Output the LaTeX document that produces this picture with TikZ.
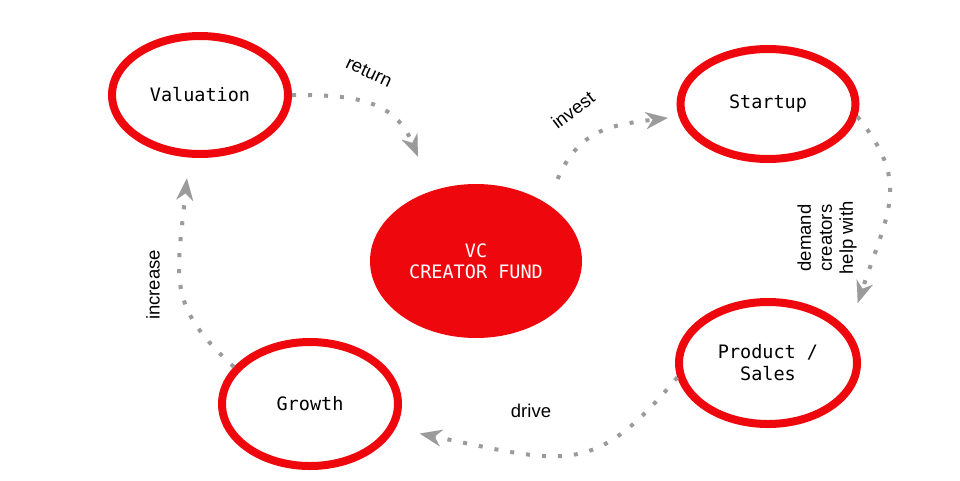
\documentclass[tikz,border=0pt]{standalone}
\usepackage{fontspec}
\setmainfont{Liberation Sans}
\newfontfamily\monofont{DejaVu Sans Mono}
\usetikzlibrary{arrows.meta,shapes.geometric}
\definecolor{cred}{RGB}{238,8,14}
\definecolor{cgray}{RGB}{155,155,155}
\begin{document}
\begin{tikzpicture}[x=1pt,y=-1pt,
  ring/.style={ellipse,draw=cred,line width=8pt,fill=white,inner sep=0pt,align=center,font=\monofont\fontsize{18.5}{22}\selectfont},
  core/.style={ellipse,fill=cred,inner sep=0pt,outer sep=0pt,align=center,text=white,font=\monofont\fontsize{18.5}{21}\selectfont},
  flow/.style={draw=cgray,line width=4pt,dash pattern=on 4pt off 12pt,-{Stealth[length=22pt,width=17pt,inset=7pt,line width=0.01pt,fill=cgray]}},
  lab/.style={font=\fontsize{18.5}{21}\selectfont,align=center}]
\fill[white] (0,0) rectangle (960,480);
\useasboundingbox (0,0) rectangle (960,480);

\node[ring,minimum width=176pt,minimum height=118pt] (val) at (200,95) {Valuation};
\node[ring,minimum width=175pt,minimum height=110pt] (st) at (768,104) {Startup};
\node[ring,minimum width=178pt,minimum height=122pt] (ps) at (768,363) {Product /\\Sales};
\node[ring,minimum width=176pt,minimum height=124pt] (gr) at (310,404) {Growth};
\node[core,minimum width=212pt,minimum height=154pt] (vc) at (476,261) {VC\\CREATOR FUND};

\draw[flow,shorten >=37pt] (val.east) .. controls (350,95) and (393.5,97.8) .. (vc.122);
\draw[flow,shorten <=27pt,shorten >=11pt] (vc.39) .. controls (579,130) and (610,125) .. (st.188);
\draw[flow,shorten >=29pt] (st.-8) .. controls (910,182) and (889.6,208) .. (ps.22);
\draw[flow,shorten >=25pt] (ps.189) .. controls (594,477) and (566.7,464) .. (gr.-16);
\draw[flow,shorten >=21pt] (gr.154) .. controls (165.7,305) and (177,278.5) .. (val.260);

\node[lab,rotate=-25] (lret) at (369,72) {return};
\node[lab,rotate=37] (linv) at (573,110) {invest};
\node[lab,rotate=90] (ldem) at (827,238) {demand\\creators\\help with};
\node[lab] (ldrv) at (531,411) {drive};
\node[lab,rotate=90] (linc) at (153,285) {increase};
\end{tikzpicture}
\end{document}
